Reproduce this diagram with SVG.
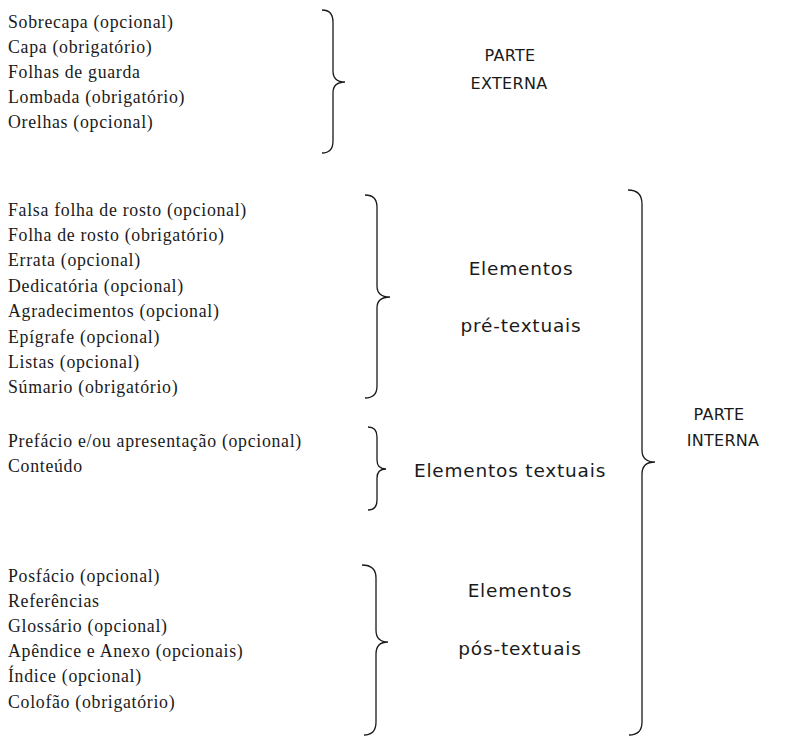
<svg xmlns="http://www.w3.org/2000/svg" width="793" height="737" viewBox="0 0 793 737">
<style>
.it{font-family:"Liberation Serif","Times New Roman",serif;font-size:17.8px;fill:#1a1a1a;letter-spacing:0.7px}
.lb{font-family:"DejaVu Sans","Noto Sans",sans-serif;font-size:18.5px;fill:#1a1a1a;text-anchor:middle;letter-spacing:0.8px}
.cp{font-family:"DejaVu Sans","Noto Sans",sans-serif;font-size:16px;fill:#1a1a1a;text-anchor:middle;letter-spacing:0.3px}
.br{fill:none;stroke:#1a1a1a;stroke-width:1.3}
</style>
<rect width="793" height="737" fill="#fff"/>
<g id="externa">
<text class="it" x="8" y="28">Sobrecapa (opcional)</text>
<text class="it" x="8" y="53">Capa (obrigatório)</text>
<text class="it" x="8" y="78">Folhas de guarda</text>
<text class="it" x="8" y="103">Lombada (obrigatório)</text>
<text class="it" x="8" y="128">Orelhas (opcional)</text>
<text class="cp" x="510" y="61">PARTE</text>
<text class="cp" x="509" y="89">EXTERNA</text>
</g>
<g id="pretextuais">
<text class="it" x="8" y="216">Falsa folha de rosto (opcional)</text>
<text class="it" x="8" y="241">Folha de rosto (obrigatório)</text>
<text class="it" x="8" y="266">Errata (opcional)</text>
<text class="it" x="8" y="292">Dedicatória (opcional)</text>
<text class="it" x="8" y="317">Agradecimentos (opcional)</text>
<text class="it" x="8" y="343">Epígrafe (opcional)</text>
<text class="it" x="8" y="368">Listas (opcional)</text>
<text class="it" x="8" y="393">Súmario (obrigatório)</text>
<text class="lb" x="521" y="275">Elementos</text>
<text class="lb" x="521" y="332">pré-textuais</text>
</g>
<g id="textuais">
<text class="it" x="8" y="447">Prefácio e/ou apresentação (opcional)</text>
<text class="it" x="8" y="472">Conteúdo</text>
<text class="lb" x="510" y="477">Elementos textuais</text>
</g>
<g id="postextuais">
<text class="it" x="8" y="582">Posfácio (opcional)</text>
<text class="it" x="8" y="607">Referências</text>
<text class="it" x="8" y="632">Glossário (opcional)</text>
<text class="it" x="8" y="657">Apêndice e Anexo (opcionais)</text>
<text class="it" x="8" y="682">Índice (opcional)</text>
<text class="it" x="8" y="708">Colofão (obrigatório)</text>
<text class="lb" x="520" y="597">Elementos</text>
<text class="lb" x="520" y="655">pós-textuais</text>
</g>
<g id="interna">
<text class="cp" x="719" y="420">PARTE</text>
<text class="cp" x="723" y="446">INTERNA</text>
</g>
<g id="connectors">
<path class="br" d="M322 10 Q333 10 333 22 L333 71 Q333 82 345 82 Q333 82 333 93 L333 141 Q333 153 322 153"/>
<path class="br" d="M365 195 Q377 195 377 207 L377 286 Q377 297 390 297 Q377 297 377 308 L377 386 Q377 398 365 398"/>
<path class="br" d="M368 427 Q377 427 377 437 L377 460 Q377 469 386 469 Q377 469 377 478 L377 500 Q377 510 368 510"/>
<path class="br" d="M362 565 Q376 565 376 578 L376 630 Q376 642 388 642 Q376 642 376 654 L376 722 Q376 735 364 735"/>
<path class="br" d="M628 190 Q642 190 642 204 L642 450 Q642 462 655 462 Q642 462 642 474 L642 722 Q642 735 629 735"/>
</g>
</svg>
